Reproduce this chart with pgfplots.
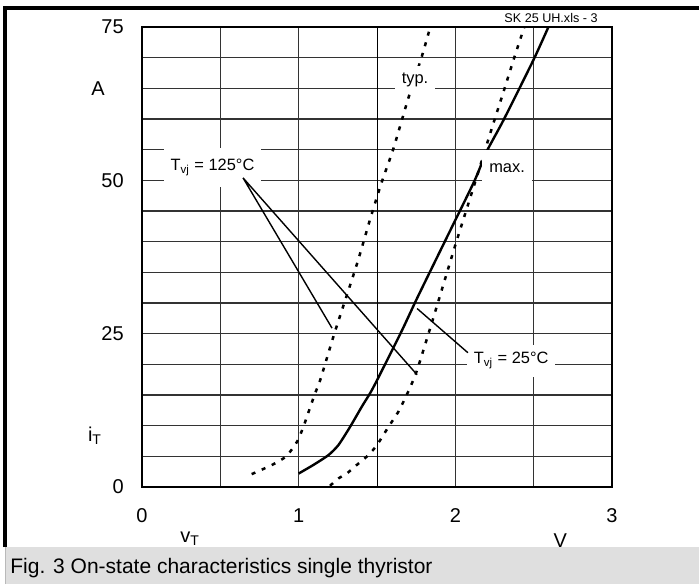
\documentclass[border=0pt]{standalone}
\usepackage{fontspec}
\setmainfont{Liberation Sans}
\usepackage{pgfplots}
\pgfplotsset{compat=1.18}

\newcommand{\tickfont}{\fontsize{10}{12}\selectfont}
\newcommand{\labfont}{\fontsize{8.2}{9.8}\selectfont}

\begin{document}
\begin{tikzpicture}
\useasboundingbox (0,0) rectangle (349.5pt,292pt);
% caption strip
\fill[gray!25] (2.5pt,0) rectangle (349.5pt,18.5pt);
\draw[gray!55, line width=0.5pt] (2.75pt,0) -- (2.75pt,18.5pt);
\node[anchor=west, font=\fontsize{10.5}{12}\selectfont, inner sep=0] at (5pt,8pt)
  {Fig. 3 On-state characteristics single thyristor};
% outer frame
\draw[black, line width=2pt] (2.5pt,18.5pt) -- (2.5pt,288pt) -- (349.5pt,288pt);
\node[anchor=east, font=\fontsize{6.3}{7}\selectfont, inner sep=0] at (299pt,283pt)
  {SK 25 UH.xls - 3};

\begin{axis}[
  at={(71pt,48.5pt)}, anchor=south west,
  scale only axis, width=235pt, height=230pt,
  xmin=0, xmax=3, ymin=0, ymax=75,
  xtick={0,1,2,3}, minor xtick={0.5,2.5},
  ytick={0,25,50,75}, minor ytick={5,10,...,70},
  grid=both,
  major grid style={black!80, line width=0.75pt},
  minor grid style={black!80, line width=0.75pt},
  major tick length=0pt, minor tick length=0pt,
  axis line style={black, line width=0.9pt},
  tick label style={font=\tickfont},
  /pgf/number format/assume math mode=true,
  yticklabel style={xshift=-5.6pt},
  xticklabel style={yshift=-7.1pt},
  clip=false,
]
% thin line at 1.5 V
\draw[black, line width=0.45pt] (axis cs:1.5,0) -- (axis cs:1.5,75);

% left dotted curve
\addplot[black, line width=1.25pt, dash pattern=on 2pt off 3.5pt, smooth, tension=0.4] coordinates {
  (0.70,2.1) (0.83,3.6) (0.92,5.0) (0.99,7.4) (1.03,9.8) (1.06,12.0) (1.105,15.3)
  (1.137,17.4) (1.23,25.2) (1.37,36.2) (1.46,44.0) (1.53,49.7) (1.605,55.2)
  (1.70,63.4) (1.786,70.2) (1.84,75)
};
% solid curve
\addplot[black, line width=1.2pt, smooth, tension=0.4] coordinates {
  (1.00,2.2) (1.094,3.6) (1.19,5.2) (1.254,6.85) (1.328,9.8) (1.403,13.1)
  (1.456,15.3) (1.50,17.4) (1.655,25.3) (1.76,31.0) (1.94,40.4) (2.12,49.8)
  (2.20,54.7) (2.307,59.8) (2.498,69.6) (2.594,75)
};
% right dotted curve
\addplot[black, line width=1.25pt, dash pattern=on 2pt off 3.5pt, smooth, tension=0.4] coordinates {
  (1.20,0.2) (1.254,1.4) (1.307,2.2) (1.371,3.6) (1.445,5.2) (1.50,6.85)
  (1.573,9.8) (1.637,12.3) (1.70,15.6) (1.755,19.0) (1.855,27.2) (1.997,39.2)
  (2.125,49.6) (2.233,58.5) (2.307,64.4) (2.371,69.6) (2.44,75)
};

% label boxes
\node[fill=white, inner sep=0, minimum width=48.5pt, minimum height=19.5pt, font=\labfont]
  at (axis cs:0.45,52.1) {T\textsubscript{vj} = 125°C};
\node[fill=white, inner sep=0, minimum width=44pt, minimum height=16pt, font=\labfont]
  at (axis cs:2.356,20.6) {T\textsubscript{vj} = 25°C};
\node[fill=white, inner sep=0, minimum width=20pt, minimum height=14pt, font=\labfont]
  at (axis cs:1.743,66.4) {typ.};
\node[fill=white, inner sep=0, minimum width=25pt, minimum height=18pt, font=\labfont]
  at (axis cs:2.33,52.0) {max.};

% pointer lines
\draw[black, line width=0.7pt] (axis cs:1.213,25.9) -- (axis cs:0.645,50.4) -- (axis cs:1.756,18.3);
\draw[black, line width=0.7pt] (axis cs:2.08,21.9) -- (axis cs:1.756,29.1);

% axis labels
\node[font=\tickfont] at (axis cs:-0.281,65.0) {A};
\node[font=\tickfont] at (axis cs:-0.30,8.3) {i\textsubscript{T}};
\node[font=\tickfont] at (axis cs:0.307,-8.5) {v\textsubscript{T}};
\node[font=\tickfont] at (axis cs:2.67,-8.8) {V};
\end{axis}
\end{tikzpicture}
\end{document}
